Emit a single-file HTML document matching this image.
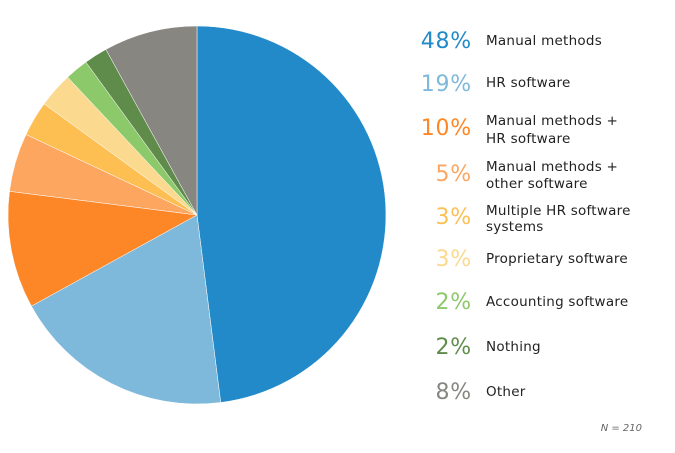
<!DOCTYPE html>
<html><head><style>body{margin:0;background:#fff}svg{display:block}</style></head><body>
<svg width="675" height="453" viewBox="0 0 675 453" xmlns="http://www.w3.org/2000/svg" font-family="DejaVu Sans, Liberation Sans, sans-serif">
<g stroke="#fff" stroke-width="0.5">
<path d="M197,215 L197,26 A189,189 0 0 1 220.7,402.5 Z" fill="#228ac9"/>
<path d="M197,215 L220.7,402.5 A189,189 0 0 1 31.4,306.1 Z" fill="#7eb8da"/>
<path d="M197,215 L31.4,306.1 A189,189 0 0 1 9.5,191.3 Z" fill="#fd8727"/>
<path d="M197,215 L9.5,191.3 A189,189 0 0 1 26,134.5 Z" fill="#fca660"/>
<path d="M197,215 L26,134.5 A189,189 0 0 1 44.1,103.9 Z" fill="#fdbe52"/>
<path d="M197,215 L44.1,103.9 A189,189 0 0 1 67.6,77.2 Z" fill="#fbd98f"/>
<path d="M197,215 L67.6,77.2 A189,189 0 0 1 85.9,62.1 Z" fill="#8cc96a"/>
<path d="M197,215 L85.9,62.1 A189,189 0 0 1 105.9,49.4 Z" fill="#5f8c4b"/>
<path d="M197,215 L105.9,49.4 A189,189 0 0 1 197,26 Z" fill="#878680"/>
</g>
<g font-size="22" text-anchor="end" letter-spacing="0.8">
<text x="472" y="48" fill="#228ac9">48%</text>
<text x="472" y="91" fill="#7eb8da">19%</text>
<text x="472" y="135" fill="#fd8727">10%</text>
<text x="472" y="181" fill="#fca660">5%</text>
<text x="472" y="224" fill="#fdbe52">3%</text>
<text x="472" y="266" fill="#fbd98f">3%</text>
<text x="472" y="309" fill="#8cc96a">2%</text>
<text x="472" y="354" fill="#5f8c4b">2%</text>
<text x="472" y="399" fill="#878680">8%</text>
</g>
<g font-size="13.5" fill="#222" letter-spacing="0.25">
<text x="486" y="45">Manual methods</text>
<text x="486" y="87">HR software</text>
<text x="486" y="125">Manual methods +</text>
<text x="486" y="143">HR software</text>
<text x="486" y="171">Manual methods +</text>
<text x="486" y="188">other software</text>
<text x="486" y="215">Multiple HR software</text>
<text x="486" y="231">systems</text>
<text x="486" y="263">Proprietary software</text>
<text x="486" y="306">Accounting software</text>
<text x="486" y="351">Nothing</text>
<text x="486" y="396">Other</text>
</g>
<text x="642" y="431" font-size="10" font-style="italic" fill="#666" text-anchor="end">N = 210</text>
</svg>
</body></html>
